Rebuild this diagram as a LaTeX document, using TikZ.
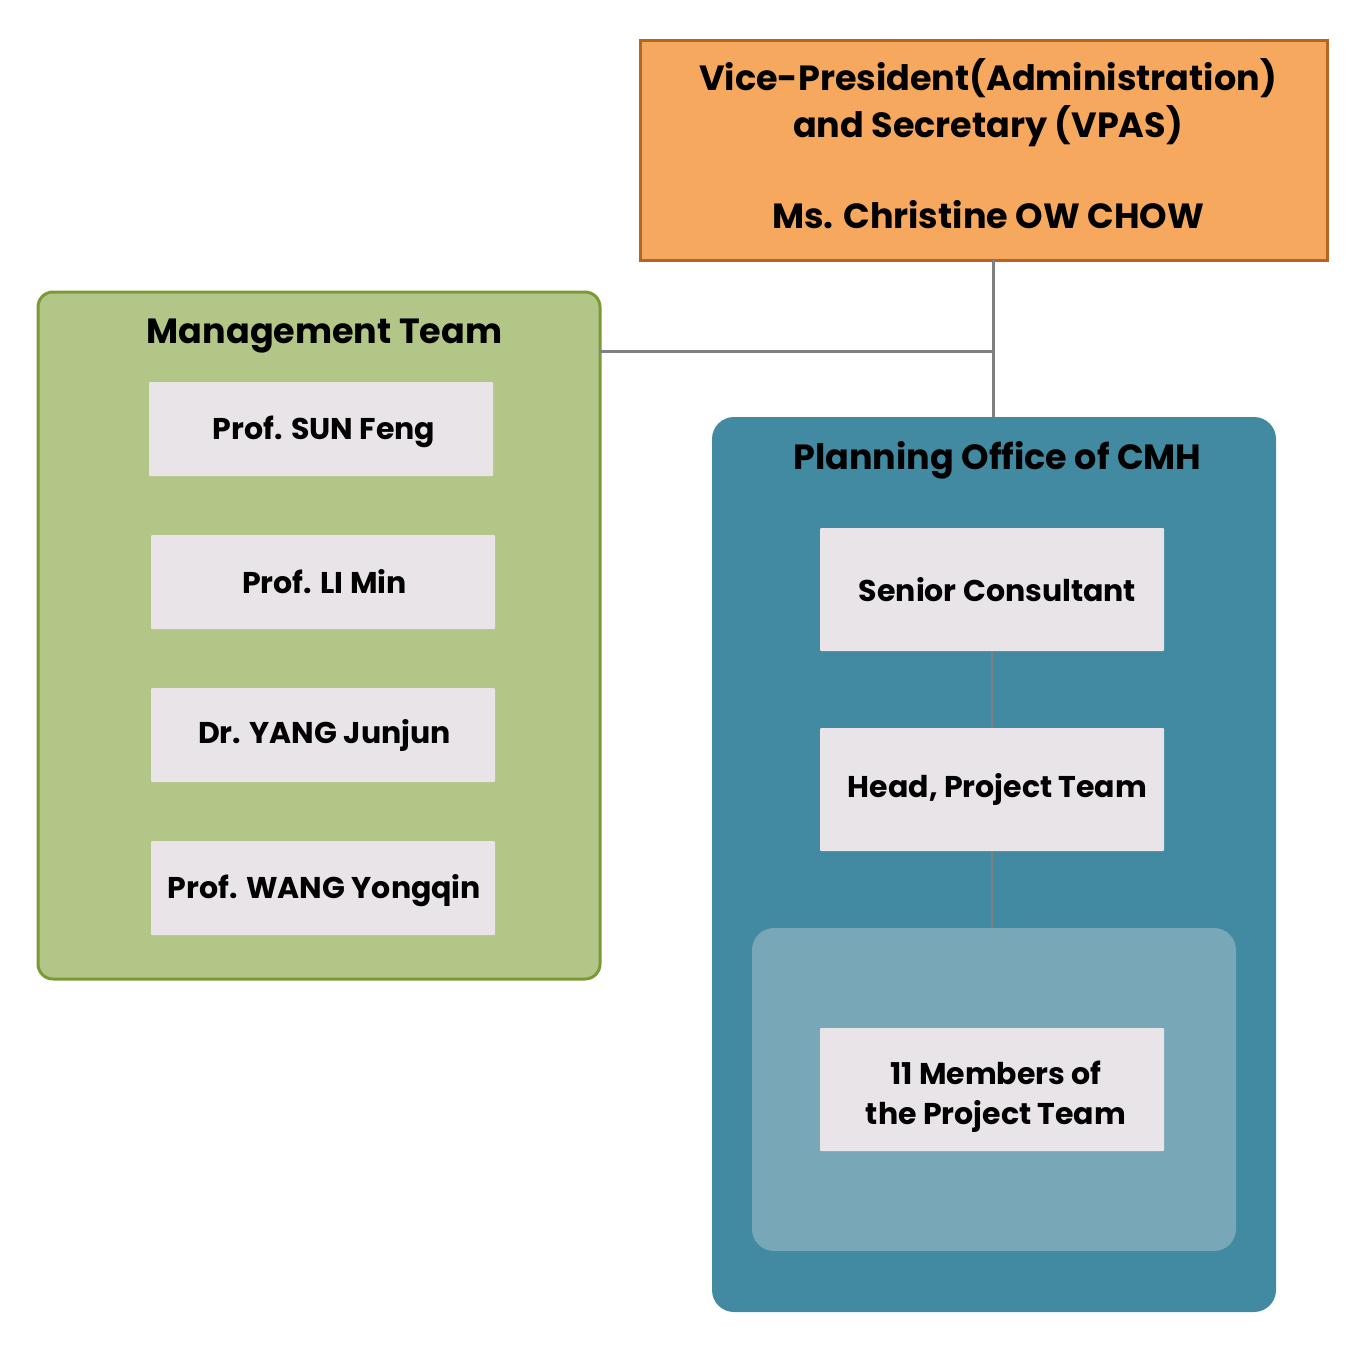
\documentclass[tikz,border=0pt]{standalone}
\usepackage{fontspec}
\setmainfont{Poppins}
\definecolor{vpfill}{HTML}{F6A85E}
\definecolor{vpline}{HTML}{B5651F}
\definecolor{mtfill}{HTML}{B2C687}
\definecolor{mtline}{HTML}{7A9A35}
\definecolor{pofill}{HTML}{418AA1}
\definecolor{ptfill}{HTML}{78A8B8}
\definecolor{cardfill}{HTML}{E8E4E8}
\definecolor{connc}{HTML}{808080}
\tikzset{
  x=1pt, y=-1pt,
  every node/.style={inner sep=0pt, outer sep=0pt},
  bigfont/.style={font=\fontsize{35}{47}\selectfont\bfseries},
  cardfont/.style={font=\fontsize{30}{40}\selectfont\bfseries},
  vpbox/.style={draw=vpline, line width=3pt, fill=vpfill, minimum width=687pt, minimum height=220pt},
  mtbox/.style={draw=mtline, line width=3pt, fill=mtfill, rounded corners=15pt, minimum width=562pt, minimum height=687pt},
  pobox/.style={fill=pofill, rounded corners=22pt, minimum width=564pt, minimum height=895pt},
  ptbox/.style={fill=ptfill, rounded corners=22pt, minimum width=484pt, minimum height=323pt},
  card/.style={fill=cardfill, rounded corners=1pt, minimum width=344pt, minimum height=94pt},
  pcard/.style={card, minimum height=123pt},
  title/.style={bigfont, anchor=base},
  cardtext/.style={cardfont, anchor=base},
  conn/.style={draw=connc, line width=3pt},
  conn2/.style={draw=connc, line width=2pt}
}
\begin{document}
\begin{tikzpicture}
\useasboundingbox[fill=white] (0,0) rectangle (1367,1360);
% boxes
\node[vpbox] (vp) at (983.5,150) {};
\node[bigfont, align=center] (vpt) at (988,144) {Vice-President(Administration)\\and Secretary (VPAS)\\[44pt]Ms. Christine OW CHOW};
\node[mtbox] (mt) at (319,635.5) {};
\node[title] (mtt) at (324.5,343) {Management Team};
\node[card] (c1) at (321,429) {};
\node[card] (c2) at (323,582) {};
\node[card] (c3) at (323,735) {};
\node[card] (c4) at (323,888) {};
\node[cardtext] (t1) at (324,439) {Prof. SUN Feng};
\node[cardtext] (t2) at (324.5,593) {Prof. LI Min};
\node[cardtext] (t3) at (324.5,743) {Dr. YANG Junjun};
\node[cardtext] (t4) at (324.5,898) {Prof. WANG Yongqin};
\node[pobox] (po) at (994,864.5) {};
\node[title] (pot) at (997.5,469) {Planning Office of CMH};
\node[pcard] (sc) at (992,589.5) {};
\node[pcard] (hp) at (992,789.5) {};
\node[ptbox] (pt) at (994,1089.5) {};
\node[pcard] (mb) at (992,1089.5) {};
\node[cardtext] (sct) at (997.5,601) {Senior Consultant};
\node[cardtext] (hpt) at (997.5,797) {Head, Project Team};
\node[cardfont, align=center] (mbt) at (996,1096.5) {11 Members of\\the Project Team};
% connectors
\coordinate (j) at (993,351);
\draw[conn] (vp.south -| j) -- (po.north -| j);
\draw[conn] (mt.east |- j) -- (j);
\draw[conn2] (sc.south) -- (hp.north);
\draw[conn2] (hp.south) -- (pt.north -| hp.south);
\end{tikzpicture}
\end{document}
